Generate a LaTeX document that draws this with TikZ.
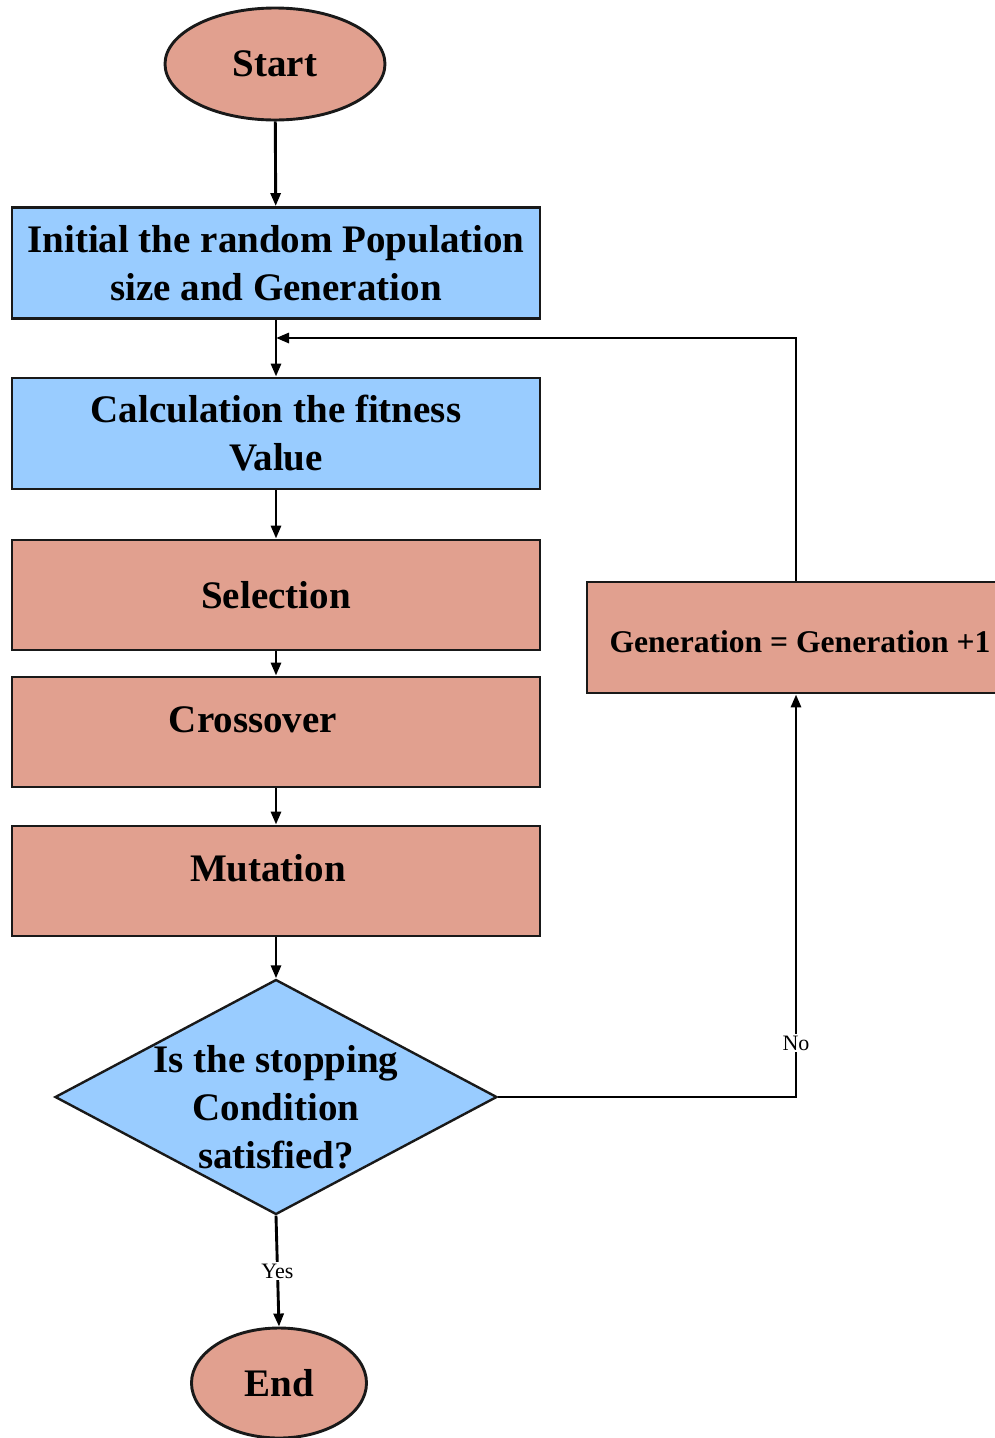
\documentclass[tikz,border=0pt]{standalone}
\usepackage{fontspec}
\setmainfont{Liberation Serif}
\usetikzlibrary{shapes.geometric,arrows.meta}
\definecolor{salmon}{RGB}{225,160,143}
\definecolor{skyb}{RGB}{153,204,255}
\begin{document}
\begin{tikzpicture}[x=1pt,y=-1pt,
 base/.style={draw=black!90, line width=2.9pt, inner sep=0pt, font=\bfseries\fontsize{39}{48}\selectfont, align=center},
 bluebox/.style={base, fill=skyb, minimum width=528pt, minimum height=111pt},
 redbox/.style={base, fill=salmon, minimum width=528pt, minimum height=110pt},
 term/.style={base, ellipse, fill=salmon},
 txt/.style={font=\bfseries\fontsize{39}{48}\selectfont, align=center, inner sep=0pt},
 flow/.style={line width=2.9pt, -{Triangle[length=13pt,width=10pt]}},
 lab/.style={fill=white, inner sep=2pt, font=\fontsize{22}{24}\selectfont}]
\useasboundingbox (0,0) rectangle (995,1438);
\node[term, minimum width=220pt, minimum height=112pt] (start) at (275,64) {Start};
\node[bluebox] (init) at (276,263) {Initial the random Population\\size and Generation};
\node[bluebox] (calc) at (276,433.5) {Calculation the fitness\\Value};
\node[redbox] (sel) at (276,595) {Selection};
\node[redbox, label={[txt, xshift=-23pt, yshift=12pt]center:Crossover}] (cross) at (276,732) {};
\node[redbox, label={[txt, xshift=-8pt, yshift=13pt]center:Mutation}] (mut) at (276,881) {};
\node[base, diamond, fill=skyb, line width=2.4pt, minimum width=442pt, minimum height=235pt,
  label={[txt, yshift=-10pt]center:Is the stopping\\Condition\\satisfied?}] (dec) at (276,1097) {};
\node[term, minimum width=175pt, minimum height=110pt] (end) at (279,1383) {End};
\node[redbox, minimum width=418pt, minimum height=111pt,
  label={[font=\bfseries\fontsize{31.6}{36}\selectfont, inner sep=0pt, xshift=4pt, yshift=-4pt]center:Generation = Generation +1}] (gen) at (796,637.5) {};
\coordinate (j) at (276,338);
\draw[flow] (start) -- (init);
\draw[flow] (init) -- (calc);
\draw[flow] (calc) -- (sel);
\draw[flow] (sel) -- (cross);
\draw[flow] (cross) -- (mut);
\draw[flow] (mut) -- (dec);
\draw[flow] (dec.south) -- node[lab]{Yes} (end.north);
\draw[flow] (dec.east) -| node[lab, pos=0.567]{No} (gen.south);
\draw[flow] (gen.north) |- (j);
\end{tikzpicture}
\end{document}
